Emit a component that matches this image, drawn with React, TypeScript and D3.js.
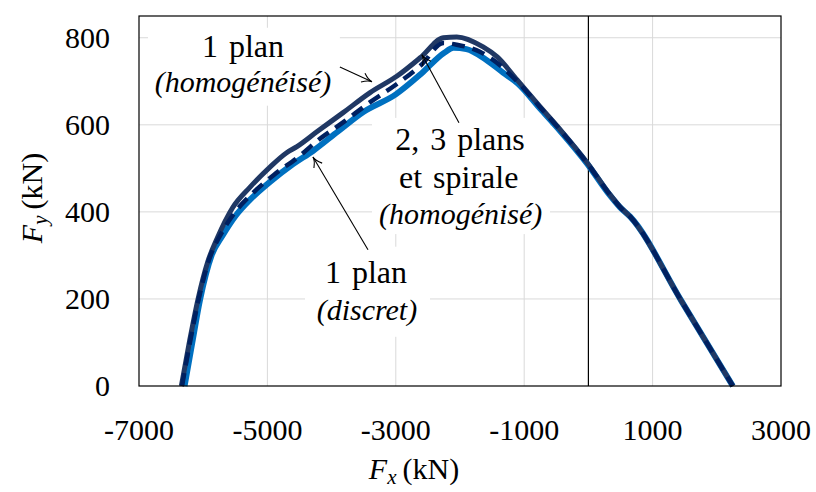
import React, { useEffect, useRef } from 'react';
import * as d3 from 'd3';

// Fx (kN) / Fy (kN) pairs
const discretFx = [-6290, -6170, -6050, -5870, -5700, -5500, -5270, -4950, -4600, -4290, -3900, -3500, -3000, -2600, -2250, -2100, -1900, -1600, -1330, -1100, -750, -440, -20, 330, 490, 650, 1450, 2250];
const discretFy = [0, 100, 198, 300, 345, 390, 428, 470, 510, 540, 585, 630, 670, 718, 765, 777, 774, 750, 720, 695, 637, 586, 511, 439, 411, 389, 195, 0];

const homog1Fx = [-6340, -6210, -6080, -5930, -5780, -5540, -5270, -4960, -4700, -4540, -4230, -3820, -3400, -2980, -2620, -2260, -2050, -1640, -1420, -1110, -750, -440, -20, 330, 490, 650, 1450, 2250];
const homog1Fy = [0, 105, 200, 285, 340, 410, 457, 503, 536, 550, 584, 628, 674, 712, 754, 800, 802, 779, 756, 703, 641, 589, 513, 441, 412, 389, 195, 0];

const homog23Fx = [-6330, -6200, -6070, -5920, -5700, -5500, -5250, -4900, -4500, -4250, -3800, -3400, -3000, -2600, -2260, -2050, -1690, -1530, -1110, -750, -440, -20, 330, 490, 650, 1450, 2250];
const homog23Fy = [0, 105, 200, 285, 355, 400, 440, 485, 528, 560, 608, 652, 692, 738, 788, 784, 768, 754, 700, 640, 588, 512, 440, 411, 389, 195, 0];

const xTicks = [-7000, -5000, -3000, -1000, 1000, 3000];
const yTicks = [0, 200, 400, 600, 800];

const W = 816;
const H = 492;
const margin = { top: 16, right: 35, bottom: 106, left: 139 };
const serif = "'Liberation Serif', 'DejaVu Serif', serif";

export default function App() {
  const svgRef = useRef<SVGSVGElement>(null);

  useEffect(() => {
    if (!svgRef.current) return;
    const svg = d3.select(svgRef.current);
    svg.selectAll('*').remove();

    const x = d3.scaleLinear().domain([-7000, 3000]).range([margin.left, W - margin.right]);
    const y = d3.scaleLinear().domain([0, 850]).range([H - margin.bottom, margin.top]);

    // grid
    const grid = svg.append('g').attr('stroke', '#d9d9d9').attr('stroke-width', 1);
    grid.selectAll('.gx').data(xTicks.slice(1, -1)).enter().append('line')
      .attr('x1', (d) => x(d)).attr('x2', (d) => x(d))
      .attr('y1', y(0)).attr('y2', y(850));
    grid.selectAll('.gy').data(yTicks.slice(1)).enter().append('line')
      .attr('x1', x(-7000)).attr('x2', x(3000))
      .attr('y1', (d) => y(d)).attr('y2', (d) => y(d));

    // vertical line at Fx = 0
    svg.append('line')
      .attr('x1', x(0)).attr('x2', x(0)).attr('y1', y(0)).attr('y2', y(850))
      .attr('stroke', '#000').attr('stroke-width', 1.2);

    // annotation boxes (white background under labels)
    const boxes = [
      [-6860, -3871, 823, 644],
      [-3371, -598, 616, 349],
      [-4414, -2467, 320, 113],
    ];
    svg.selectAll('.box').data(boxes).enter().append('rect')
      .attr('x', (d) => x(d[0])).attr('width', (d) => x(d[1]) - x(d[0]))
      .attr('y', (d) => y(d[2])).attr('height', (d) => y(d[3]) - y(d[2]))
      .attr('fill', '#fff');

    // curves
    const line = d3.line<[number, number]>()
      .x((d) => x(d[0]))
      .y((d) => y(d[1]))
      .curve(d3.curveMonotoneX);

    const series = [
      { fx: discretFx, fy: discretFy, color: '#0070c0', width: 6, dash: null },
      { fx: homog1Fx, fy: homog1Fy, color: '#203864', width: 5, dash: null },
      { fx: homog23Fx, fy: homog23Fy, color: '#002060', width: 4.5, dash: '13 8' },
    ];
    series.forEach((s) => {
      const pts = s.fx.map((v, i) => [v, s.fy[i]] as [number, number]);
      svg.append('path')
        .attr('d', line(pts))
        .attr('fill', 'none')
        .attr('stroke', s.color)
        .attr('stroke-width', s.width)
        .attr('stroke-linejoin', 'round')
        .attr('stroke-dasharray', s.dash);
    });

    // frame
    svg.append('rect')
      .attr('x', x(-7000)).attr('y', y(850))
      .attr('width', x(3000) - x(-7000)).attr('height', y(0) - y(850))
      .attr('fill', 'none').attr('stroke', '#000').attr('stroke-width', 1.2);

    // tick labels
    svg.selectAll('.xt').data(xTicks).enter().append('text')
      .attr('x', (d) => x(d)).attr('y', y(0) + 54)
      .attr('text-anchor', 'middle')
      .text((d) => d);
    svg.selectAll('.yt').data(yTicks).enter().append('text')
      .attr('x', x(-7000) - 29).attr('y', (d) => y(d) + 10)
      .attr('text-anchor', 'end')
      .text((d) => d);

    // axis titles
    const xt = svg.append('text')
      .attr('x', 414).attr('y', 479)
      .attr('text-anchor', 'middle');
    xt.append('tspan').attr('font-style', 'italic').text('F');
    xt.append('tspan').attr('font-style', 'italic').attr('font-size', 21).attr('dy', 5).text('x');
    xt.append('tspan').attr('dy', -5).text('\u2009(kN)');

    const yt = svg.append('text')
      .attr('transform', 'translate(42,198) rotate(-90)')
      .attr('text-anchor', 'middle');
    yt.append('tspan').attr('font-style', 'italic').text('F');
    yt.append('tspan').attr('font-style', 'italic').attr('font-size', 21).attr('dy', 5).text('y');
    yt.append('tspan').attr('dy', -5).text('\u2009(kN)');

    // annotations: [text, fx, fy, italic]
    const labels: [string, number, number, boolean][] = [
      ['1 plan', -5380, 756, false],
      ['(homogénéisé)', -5380, 676, true],
      ['2, 3 plans', -2000, 543, false],
      ['et spirale', -2020, 455, false],
      ['(homogénisé)', -1990, 372, true],
      ['1 plan', -3464, 237, false],
      ['(discret)', -3450, 152, true],
    ];
    const lab = svg.selectAll('.lab').data(labels).enter().append('text')
      .attr('x', (d) => x(d[1])).attr('y', (d) => y(d[2]))
      .attr('text-anchor', 'middle')
      .text((d) => d[0]);
    lab.filter((d) => d[3]).attr('font-style', 'italic');
    lab.filter((d) => !d[3]).attr('font-size', 32).attr('word-spacing', 3);

    // arrows: [fromFx, fromFy, tipFx, tipFy]
    const arrows = [
      [-3871, 733, -3371, 699],
      [-2016, 605, -2592, 761],
      [-3433, 313, -4290, 526],
    ];
    arrows.forEach((a) => {
      const x1 = x(a[0]), y1 = y(a[1]), x2 = x(a[2]), y2 = y(a[3]);
      const ang = Math.atan2(y2 - y1, x2 - x1);
      const L = 11, sp = 0.45;
      const g = svg.append('g').attr('stroke', '#000').attr('stroke-width', 1.1).attr('fill', 'none');
      g.append('line').attr('x1', x1).attr('y1', y1).attr('x2', x2).attr('y2', y2);
      g.append('path')
        .attr('d', `M${x2 - L * Math.cos(ang - sp)},${y2 - L * Math.sin(ang - sp)} Q${x2 - 4 * Math.cos(ang)},${y2 - 4 * Math.sin(ang)} ${x2},${y2} Q${x2 - 4 * Math.cos(ang)},${y2 - 4 * Math.sin(ang)} ${x2 - L * Math.cos(ang + sp)},${y2 - L * Math.sin(ang + sp)}`);
    });
  }, []);

  return (
    <svg
      ref={svgRef}
      width={W}
      height={H}
      fontFamily={serif}
      fontSize={30}
      style={{ position: 'absolute', left: 0, top: 0, background: '#fff' }}
    />
  );
}
